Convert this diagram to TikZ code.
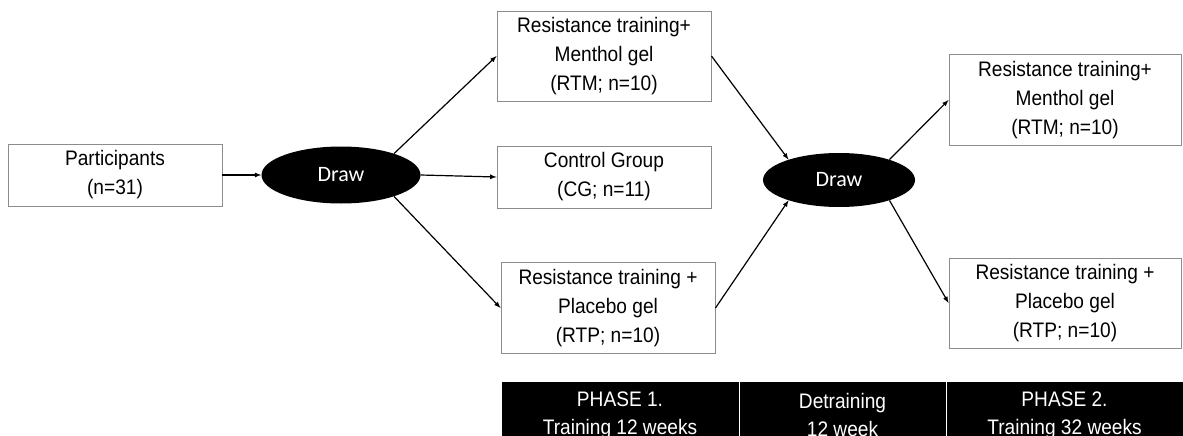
\documentclass[tikz,border=0pt]{standalone}
\usepackage{fontspec}
\usepackage{tikz}
\usetikzlibrary{shapes.geometric, arrows, positioning}
\newfontfamily\boxfont[FakeStretch=0.91]{Liberation Sans}
\newfontfamily\lotfont{Carlito}
\definecolor{boxline}{HTML}{8C8C8C}

\tikzset{
  group/.style={draw=boxline, line width=0.9pt, minimum width=214pt, align=center,
    inner sep=0pt, font=\boxfont\fontsize{21}{29}\selectfont},
  lot/.style={ellipse, fill=black, text=white, inner sep=0pt,
    font=\lotfont\fontsize{22}{26}\selectfont},
  phase/.style={fill=black, draw=white, line width=0.8pt, text=white, align=center,
    minimum height=68pt, inner sep=0pt, font=\boxfont\fontsize{21}{28}\selectfont},
  arr/.style={->, >=latex, line width=1.2pt}
}

\begin{document}
\begin{tikzpicture}[x=1pt, y=-1pt]
  \useasboundingbox (0,0) rectangle (1183,436);

  % Randomisation
  \node[group, minimum height=62pt] (part) at (115,175) {Participants\\(n=31)};
  \node[lot, minimum width=159pt, minimum height=57pt] (draw1) at (341,175) {Draw};

  % Phase 1 groups
  \node[group, minimum height=90pt] (rtm1) at (604,56) {Resistance training+\\Menthol gel\\(RTM; n=10)};
  \node[group, minimum height=62pt] (cg) at (604,177) {Control Group\\(CG; n=11)};
  \node[group, minimum height=91pt] (rtp1) at (608,308) {Resistance training +\\Placebo gel\\(RTP; n=10)};

  % Second draw and phase 2 groups
  \node[lot, minimum width=152pt, minimum height=54pt] (draw2) at (839,180) {Draw};
  \node[group, minimum width=232pt, minimum height=91pt] (rtm2) at (1065,100) {Resistance training+\\Menthol gel\\(RTM; n=10)};
  \node[group, minimum width=232pt, minimum height=90pt] (rtp2) at (1065,303) {Resistance training +\\Placebo gel\\(RTP; n=10)};

  % Timeline
  \node[phase, minimum width=238pt] (ph1) at (620,415) {PHASE 1.\\Training 12 weeks};
  \node[phase, minimum width=207pt] (det) at (842.5,415) {Detraining\\12 week};
  \node[phase, minimum width=237pt] (ph2) at (1064.5,415) {PHASE 2.\\Training 32 weeks};

  % Arrows
  \draw[arr] (part.east) -- (draw1.west);
  \draw[arr] (draw1.22) -- (rtm1.west);
  \draw[arr] (draw1.east) -- (cg.west);
  \draw[arr] (draw1.-22) -- (rtp1.west);
  \draw[arr] (rtm1.east) -- (draw2.158);
  \draw[arr] (rtp1.east) -- (draw2.202);
  \draw[arr] (draw2.22) -- (rtm2.west);
  \draw[arr] (draw2.-22) -- (rtp2.west);
\end{tikzpicture}
\end{document}
